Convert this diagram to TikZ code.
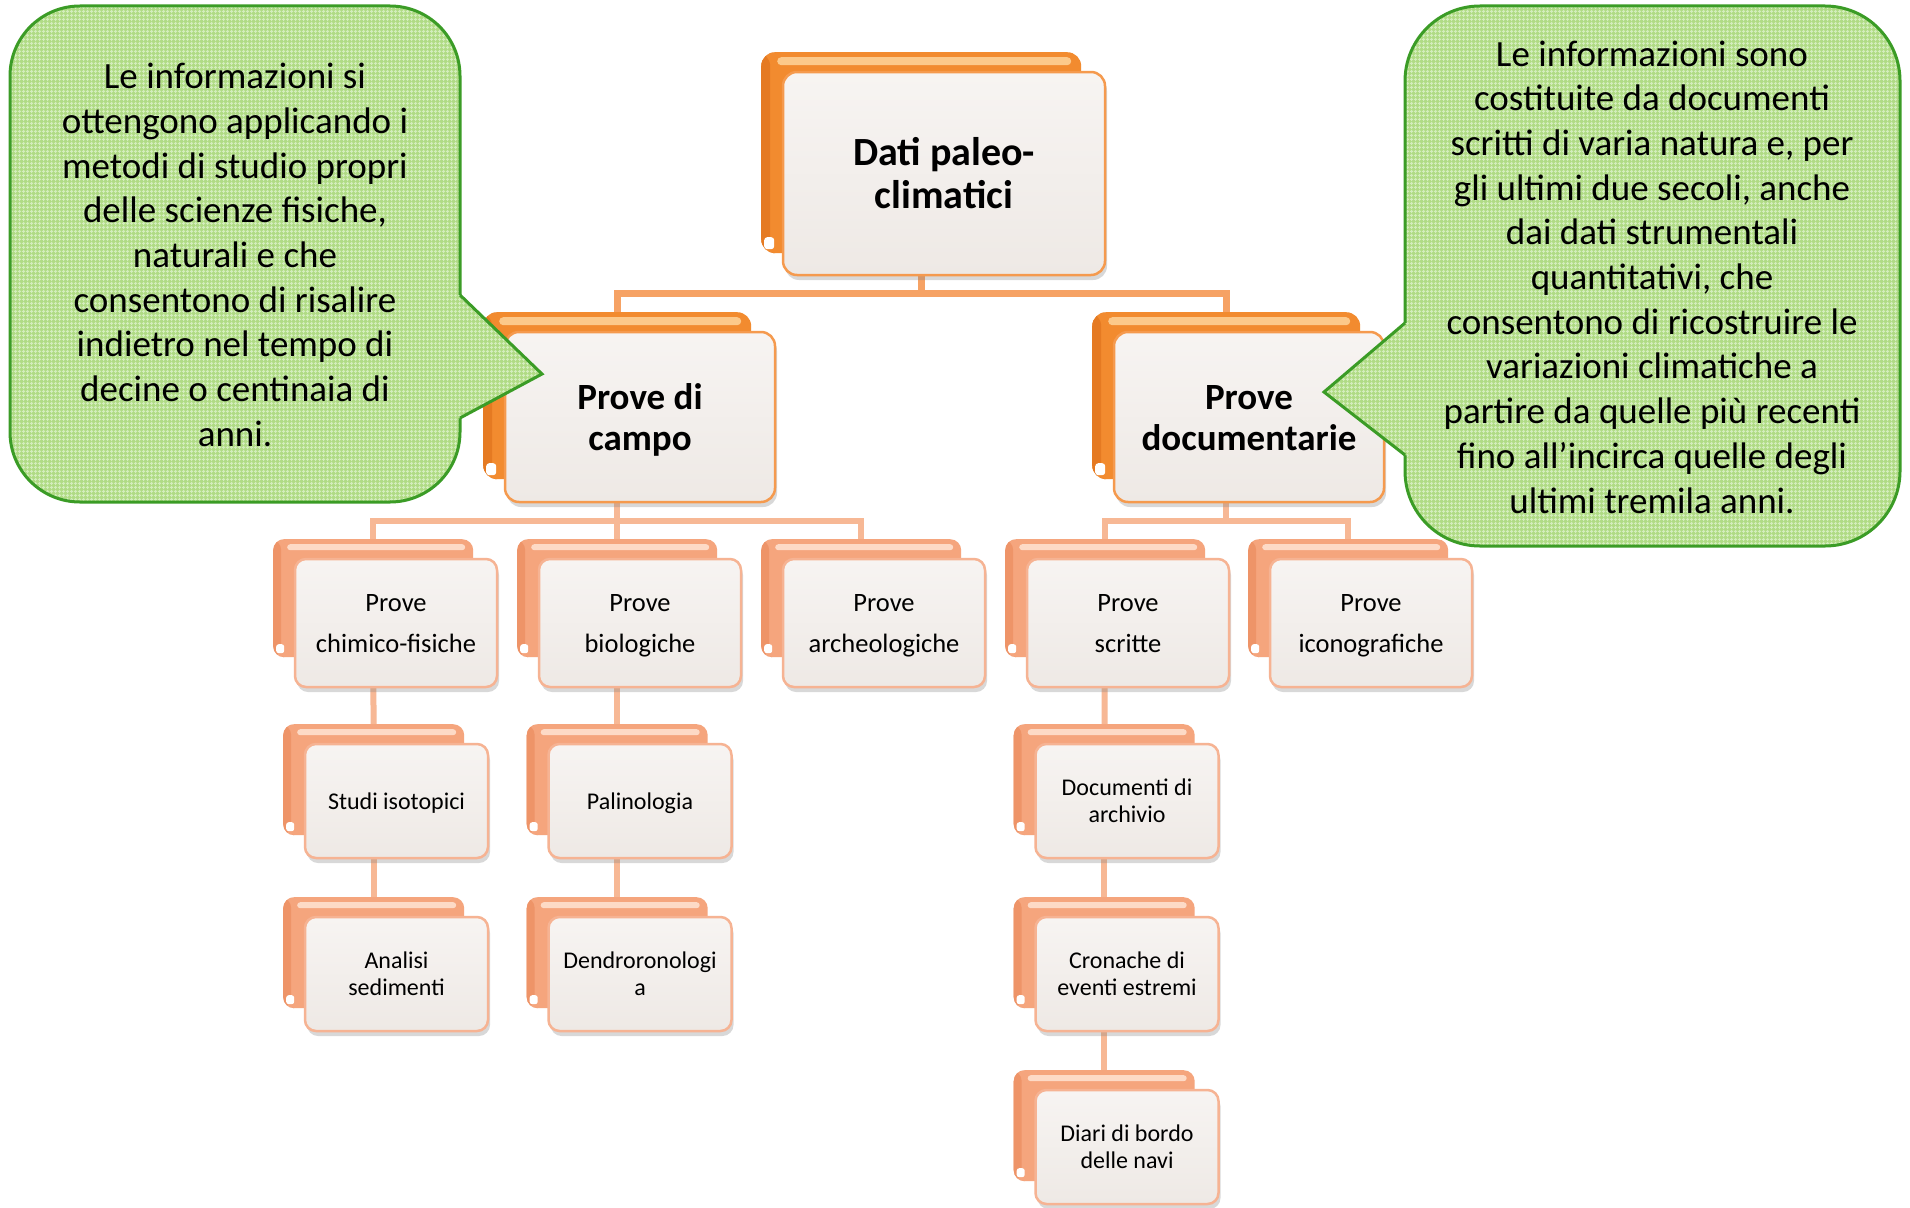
\documentclass[tikz,border=0pt]{standalone}
\usepackage{fontspec}
\setmainfont{Carlito}
\usetikzlibrary{shadows,patterns.meta}

\definecolor{orgBack}{HTML}{F28B2F}
\definecolor{orgBackDark}{HTML}{E57A22}
\definecolor{orgHi}{HTML}{FCC98A}
\definecolor{salBack}{HTML}{F5A57D}
\definecolor{salBackDark}{HTML}{EE9468}
\definecolor{salHi}{HTML}{FDDAC6}
\definecolor{faceTop}{HTML}{F7F4F2}
\definecolor{faceBot}{HTML}{EEE9E5}
\definecolor{orgEdge}{HTML}{F59A4E}
\definecolor{salEdge}{HTML}{F6B393}
\definecolor{linkA}{HTML}{F6A264}
\definecolor{linkB}{HTML}{F7B895}
\definecolor{noteFill}{HTML}{B0DB85}
\definecolor{noteGrid}{HTML}{D3EDBC}
\definecolor{noteEdge}{HTML}{3B9C26}

\pgfdeclarelayer{paper}
\pgfdeclarelayer{links}
\pgfsetlayers{paper,links,main}

\newcommand\labelpad{\strut}

\tikzset{
  backbase/.style={inner sep=0pt, draw=none, anchor=north west},
  backA/.style={backbase, rounded corners=14pt, fill=orgBack,
    path picture={
      \fill[orgBackDark] (path picture bounding box.north west) rectangle
        ([xshift=9pt]path picture bounding box.south west);
      \fill[orgHi, rounded corners=4pt]
        ([xshift=16pt,yshift=-5pt]path picture bounding box.north west) rectangle
        ([xshift=-10pt,yshift=-13pt]path picture bounding box.north east);
      \fill[white, rounded corners=3pt]
        ([xshift=3pt,yshift=4pt]path picture bounding box.south west) rectangle ++(10pt,12pt);
    }},
  backB/.style={backbase, rounded corners=11pt, fill=salBack,
    path picture={
      \fill[salBackDark] (path picture bounding box.north west) rectangle
        ([xshift=8pt]path picture bounding box.south west);
      \fill[salHi, rounded corners=3pt]
        ([xshift=14pt,yshift=-5pt]path picture bounding box.north west) rectangle
        ([xshift=-8pt,yshift=-11pt]path picture bounding box.north east);
      \fill[white, rounded corners=2.5pt]
        ([xshift=3pt,yshift=4pt]path picture bounding box.south west) rectangle ++(8pt,9pt);
    }},
  facebase/.style={inner sep=0pt, align=center, top color=faceTop, bottom color=faceBot,
    line width=2.5pt,
    drop shadow={shadow xshift=2pt, shadow yshift=-5pt, opacity=.30, fill=black!50}},
  faceA/.style={facebase, rounded corners=14pt, draw=orgEdge},
  faceB/.style={facebase, rounded corners=11pt, draw=salEdge},
  % the invisible rule on the first line sets where the label sits in the card
  lvOne/.style={faceA, font=\fontsize{40}{43}\selectfont\bfseries,
    /utils/exec={\renewcommand\labelpad{\rule{0pt}{40pt}}}},
  lvTwo/.style={faceA, font=\fontsize{37}{41}\selectfont\bfseries,
    /utils/exec={\renewcommand\labelpad{\rule{0pt}{39pt}}}},
  lvThree/.style={faceB, font=\fontsize{26.5}{41}\selectfont,
    /utils/exec={\renewcommand\labelpad{\rule{0pt}{31pt}}}},
  lvFour/.style={faceB, font=\fontsize{24}{27}\selectfont,
    /utils/exec={\renewcommand\labelpad{\rule{0pt}{25pt}}}},
  linkTop/.style={draw=linkA, line width=7pt},
  linkLow/.style={draw=linkB, line width=6pt},
  notefill/.style={fill=noteFill,
    postaction={pattern={Hatch[angle=0,distance=4pt,line width=1.1pt]}, pattern color=noteGrid}},
  noteline/.style={draw=noteEdge, line width=3pt},
  notetext/.style={align=center, inner sep=0pt, font=\fontsize{37}{44.7}\selectfont}
}

% #1 name, #2/#3 centre of the face card, #4 width, #5 height,
% #6 height of the card behind, #7 back style, #8 face style, #9 label
\newcommand\tierbox[9]{%
  \node[#7, minimum width=#4-2, minimum height=#6] (#1b) at (#2-#4/2-22, #3-#5/2-20) {};
  \node[#8, minimum width=#4, minimum height=#5] (#1) at (#2,#3) {\labelpad#9\strut};
}

\begin{document}
\begin{tikzpicture}[x=1pt,y=-1pt]
\begin{pgfonlayer}{paper}
  \fill[white] (0,0) rectangle (1910,1207);
\end{pgfonlayer}
\useasboundingbox (0,0) rectangle (1910,1207);

% root
\tierbox{root}{944}{173.5}{322}{203}{201}{backA}{lvOne}{Dati paleo-\\climatici}
% second tier
\tierbox{campo}{640}{417}{270}{170}{167}{backA}{lvTwo}{Prove di\\campo}
\tierbox{docu}{1249}{417}{270}{170}{167}{backA}{lvTwo}{Prove\\documentarie}
% third tier
\tierbox{chim}{396}{623}{202}{128}{118}{backB}{lvThree}{Prove\\chimico-fisiche}
\tierbox{bio}{640}{623}{202}{128}{118}{backB}{lvThree}{Prove\\biologiche}
\tierbox{arch}{884}{623}{202}{128}{118}{backB}{lvThree}{Prove\\archeologiche}
\tierbox{scr}{1128}{623}{202}{128}{118}{backB}{lvThree}{Prove\\scritte}
\tierbox{icon}{1371}{623}{202}{128}{118}{backB}{lvThree}{Prove\\iconografiche}
% fourth tier
\tierbox{iso}{396.5}{801}{183}{114}{111}{backB}{lvFour}{Studi isotopici}
\tierbox{sed}{396.5}{974}{183}{114}{111}{backB}{lvFour}{Analisi\\sedimenti}
\tierbox{pal}{640}{801}{183}{114}{111}{backB}{lvFour}{Palinologia}
\tierbox{den}{640}{974}{183}{114}{111}{backB}{lvFour}{Dendroronologi\\a}
\tierbox{arc}{1127}{801}{183}{114}{111}{backB}{lvFour}{Documenti di\\archivio}
\tierbox{cro}{1127}{974}{183}{114}{111}{backB}{lvFour}{Cronache di\\eventi estremi}
\tierbox{dia}{1127}{1147}{183}{114}{111}{backB}{lvFour}{Diari di bordo\\delle navi}

% connectors, kept under the cards
\begin{pgfonlayer}{links}
  \coordinate (busA) at (0,293);
  \coordinate (busB) at (0,521);
  \draw[linkTop] (rootb.center) -- (rootb.center |- busA) -| (campob.center);
  \draw[linkTop] (rootb.center |- busA) -| (docub.center);
  \draw[linkLow] (campob.center) -- (campob.center |- busB) -| (chimb.center);
  \draw[linkLow] (campob.center |- busB) -| (biob.center);
  \draw[linkLow] (campob.center |- busB) -| (archb.center);
  \draw[linkLow] (docub.center) -- (docub.center |- busB) -| (scrb.center);
  \draw[linkLow] (docub.center |- busB) -| (iconb.center);
  \draw[linkLow] (chimb.center) -- (isob.center);
  \draw[linkLow] (isob.center) -- (sedb.center);
  \draw[linkLow] (biob.center) -- (palb.center);
  \draw[linkLow] (palb.center) -- (denb.center);
  \draw[linkLow] (scrb.center) -- (arcb.center);
  \draw[linkLow] (arcb.center) -- (crob.center);
  \draw[linkLow] (crob.center) -- (diab.center);
\end{pgfonlayer}

% left speech balloon
\path[notefill, rounded corners=70pt] (10,6) rectangle (460,502);
\draw[noteline, rounded corners=70pt] (10,6) rectangle (460,502);
\path[notefill] (448,295) -- (460,295) -- (542,374) -- (460,418) -- (448,418) -- cycle;
\draw[noteline] (460,295) -- (542,374) -- (460,418);
\node[notetext] (noteL) at (235,255) {Le informazioni si\\ottengono applicando i\\metodi di studio propri\\delle scienze fisiche,\\naturali e che\\consentono di risalire\\indietro nel tempo di\\decine o centinaia di\\anni.};

% right speech balloon
\path[notefill, rounded corners=75pt] (1405,6) rectangle (1900,546);
\draw[noteline, rounded corners=75pt] (1405,6) rectangle (1900,546);
\path[notefill] (1417,323) -- (1405,323) -- (1324,392) -- (1405,455) -- (1417,455) -- cycle;
\draw[noteline] (1405,323) -- (1324,392) -- (1405,455);
\node[notetext] (noteR) at (1652,277) {Le informazioni sono\\costituite da documenti\\scritti di varia natura e, per\\gli ultimi due secoli, anche\\dai dati strumentali\\quantitativi, che\\consentono di ricostruire le\\variazioni climatiche a\\partire da quelle più recenti\\fino all’incirca quelle degli\\ultimi tremila anni.};
\end{tikzpicture}
\end{document}
